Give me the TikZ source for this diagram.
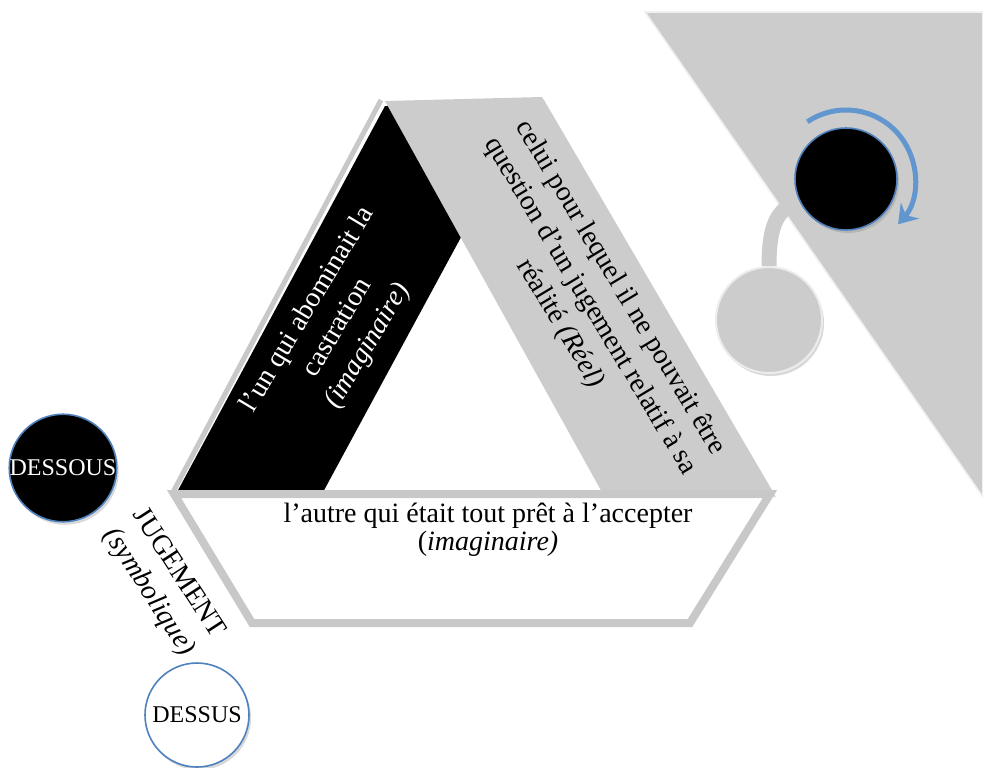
\documentclass[tikz,border=0pt]{standalone}
\usepackage{fontspec}
\setmainfont{Liberation Serif}
\usetikzlibrary{shadows,arrows.meta,backgrounds}

\definecolor{hellgrau}{RGB}{204,204,204}
\definecolor{randgrau}{RGB}{200,200,200}
\definecolor{kreisblau}{RGB}{79,129,189}
\definecolor{pfeilblau}{RGB}{98,150,206}

\tikzset{
	kreis/.style={circle, inner sep=0pt, draw=kreisblau, line width=0.8pt, font=\fontsize{12}{14}\selectfont},
	schatten/.style={drop shadow={opacity=0.3, shadow xshift=1pt, shadow yshift=-1.5pt}},
	beschriftung/.style={align=center, font=\fontsize{14}{17.5}\selectfont},
	verbinder/.style={draw=hellgrau, line width=7.5pt},
	drehpfeil/.style={draw=pfeilblau, line width=2.5pt, -{Stealth[length=9pt,width=12pt,inset=3pt]}}
}

\begin{document}
\begin{tikzpicture}[x=0.5pt,y=-0.5pt]
	\useasboundingbox (0,0) rectangle (983,767);
	
	% Kreise oben rechts
	\node[kreis, schatten, fill=hellgrau, draw=gray!15, line width=1pt, minimum size=53pt] (klein) at (769,320) {};
	\node[kreis, schatten, fill=black, minimum size=51pt] (dunkel) at (846,179) {};
	
	\begin{scope}[on background layer]
		% Dreieck oben rechts
		\filldraw[fill=hellgrau, draw=gray!12, line width=0.8pt] (645,12) -- (983,12) -- (983,497) -- cycle;
		% Verbindung
		\draw[verbinder] (klein.north) .. controls +(0,-45) and +(-20,8) .. (dunkel.205);
	\end{scope}
	
	% Drehpfeil
	\draw[drehpfeil] (dunkel.center) ++(236:69) arc[start angle=236, end angle=401, radius=69];
	
	% schwarzes Band links
	\fill[black] (385,106) -- (532,106) -- (322,494) -- (176,494) -- cycle;
	\draw[randgrau, line width=2.5pt] (381,100) -- (172,494);
	
	% graues Band rechts
	\fill[hellgrau, schatten] (385,101) -- (542,97) -- (774,494) -- (603,494) -- cycle;
	
	% weisses Band unten
	\filldraw[fill=white, draw=randgrau, line width=4pt, schatten] (174,494) -- (770,494) -- (690,623) -- (252,623) -- cycle;
	
	% Texte in den Baendern
	\node[beschriftung, text=white, rotate=59] (links) at (338,328)
		{l’un qui abominait la\\castration\\\textit{(imaginaire)}};
	\node[beschriftung, rotate=-59] (rechts) at (590,306)
		{celui pour lequel il ne pouvait être\\question d’un jugement relatif à sa\\réalité \textit{(Réel)}};
	\node[beschriftung, font=\fontsize{14}{14}\selectfont] (unten) at (488,530)
		{l’autre qui était tout prêt à l’accepter\\(\textit{imaginaire)}};
	
	% Jugement
	\node[beschriftung, rotate=-57] (jugement) at (163,583) {JUGEMENT\\\textit{(symbolique)}};
	
	% Dessous / Dessus
	\node[kreis, schatten, fill=black, text=white, minimum size=53pt] (dessous) at (63,468) {DESSOUS};
	\node[kreis, schatten, fill=white, minimum size=52pt] (dessus) at (197,715) {DESSUS};
	
\end{tikzpicture}
\end{document}
